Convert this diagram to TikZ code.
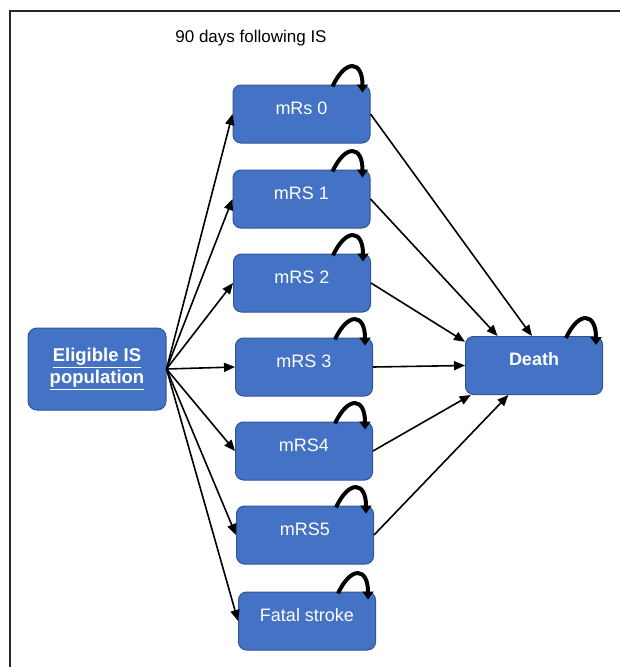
\documentclass[tikz,border=0pt]{standalone}
\usepackage{fontspec}
\setmainfont{Liberation Sans}
\usepackage{tikz}
\usetikzlibrary{positioning,arrows.meta}
\definecolor{sbox}{HTML}{4472C4}
\definecolor{sline}{HTML}{2F5597}
\definecolor{sframe}{HTML}{262626}
\tikzset{
  s/.style  = {draw=sline, fill=sbox, line width=1pt, rounded corners=8pt,
               minimum width=137pt, minimum height=58pt, inner sep=0pt,
               text height=12pt, text depth=12pt,
               font=\fontsize{18}{22}\selectfont, text=white},
  sd/.style = {s, font=\fontsize{18}{22}\selectfont\bfseries},
  se/.style = {draw=sline, fill=sbox, line width=1pt, rounded corners=9pt,
               minimum width=138pt, minimum height=82pt, align=center,
               font=\fontsize{18.5}{22}\selectfont\bfseries, text=white},
  a/.style  = {-{Triangle[length=11pt,width=9pt]}, line width=1.6pt},
  lp/.style = {-{Triangle[length=8pt,width=11pt]}, line width=4pt},
}

\begin{document}
\begin{tikzpicture}[x=1pt, y=1pt]
\useasboundingbox (0,0) rectangle (619,-667);
\draw[sframe, line width=2pt] (10,-690) |- (640,-11);

\node[font=\fontsize{17}{20}\selectfont] (title) at (251,-38) {90 days following IS};

\node[se] (elig) at (97,-369) {\underline{Eligible IS}\\\underline{population}};
\node[sd] (death) at (534,-365.5) {Death};

% the seven states after the stroke
\foreach \i/\x/\y/\t in {0/301.5/114/mRs 0, 1/301.5/199/mRS 1, 2/302/283/mRS 2,
                         3/304/367/mRS 3, 4/304/451/mRS4, 5/305/535/mRS5,
                         6/307/621/Fatal stroke} {
  \node[s] (m\i) at (\x,-\y) {\t};
  \draw[a] (elig.east) -- (m\i.west);
  \draw[lp] ([shift={(-38,-2)}]m\i.north east) .. controls +(13,28) and +(0,32)
            .. ([shift={(-8,-8)}]m\i.north east);
}

\foreach \i/\ang in {0/94, 1/141, 2/161, 3/180, 4/205, 5/229} {
  \draw[a] (m\i.east) -- (death.\ang);
}

\draw[lp] ([shift={(-37,-2)}]death.north east) .. controls +(13,28) and +(0,32)
          .. ([shift={(-7,-9)}]death.north east);

\end{tikzpicture}
\end{document}
